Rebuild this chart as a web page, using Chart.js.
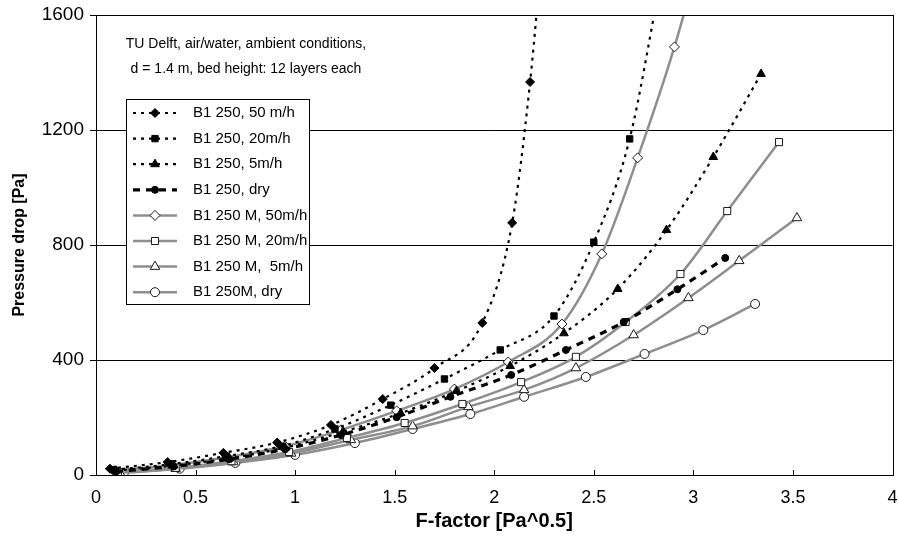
<!DOCTYPE html>
<html lang="en">

<head>
  <meta charset="UTF-8" />
  <title>Pressure drop vs F-factor</title>
  <style>
    html, body { margin: 0; padding: 0; background: #fff; }
    #wrap { width: 899px; height: 547px; }
  </style>
</head>

<body>
  <div id="wrap">
    <canvas id="myChart" width="899" height="547"></canvas>
  </div>

  <script src="https://cdn.jsdelivr.net/npm/chart.js"></script>
  <script>
    // values: F-factor [Pa^0.5] and pressure drop [Pa]
    const b50F = [0.07, 0.36, 0.64, 0.91, 1.18, 1.44, 1.70, 1.94, 2.09, 2.18, 2.25];
    const b50P = [22, 45, 77, 113, 174, 264, 372, 529, 877, 1367, 1900];
    const b20F = [0.09, 0.38, 0.65, 0.93, 1.20, 1.48, 1.75, 2.03, 2.30, 2.50, 2.68, 2.83];
    const b20P = [18, 38, 65, 100, 160, 243, 334, 435, 553, 810, 1169, 1700];
    const b5F = [0.10, 0.39, 0.67, 0.95, 1.24, 1.53, 1.81, 2.08, 2.35, 2.62, 2.865, 3.10, 3.34];
    const b5P = [15, 33, 58, 95, 150, 215, 292, 379, 493, 647, 852, 1106, 1395];
    const bDryF = [0.10, 0.39, 0.67, 0.95, 1.23, 1.51, 1.78, 2.085, 2.36, 2.65, 2.92, 3.16];
    const bDryP = [12, 30, 55, 90, 139, 201, 272, 348, 435, 532, 646, 755];
    const m50F = [0.09, 0.38, 0.66, 0.95, 1.23, 1.51, 1.80, 2.07, 2.34, 2.54, 2.72, 2.905, 3.05];
    const m50P = [15, 35, 62, 100, 157, 223, 299, 393, 525, 769, 1103, 1489, 1850];
    const m20F = [0.11, 0.40, 0.68, 0.97, 1.26, 1.55, 1.84, 2.135, 2.41, 2.66, 2.935, 3.17, 3.43];
    const m20P = [10, 25, 48, 80, 129, 181, 247, 323, 411, 532, 699, 918, 1158];
    const m5F = [0.12, 0.40, 0.69, 0.98, 1.28, 1.59, 1.87, 2.15, 2.41, 2.70, 2.975, 3.23, 3.52];
    const m5P = [8, 22, 45, 75, 122, 170, 237, 296, 372, 487, 616, 745, 894];
    const mDryF = [0.14, 0.42, 0.70, 1.00, 1.30, 1.59, 1.88, 2.15, 2.46, 2.755, 3.05, 3.31];
    const mDryP = [8, 22, 42, 70, 111, 160, 212, 272, 341, 421, 504, 595];

    const seriesNames = [
      "B1 250, 50 m/h", "B1 250, 20m/h", "B1 250, 5m/h", "B1 250, dry",
      "B1 250 M, 50m/h", "B1 250 M, 20m/h", "B1 250 M,  5m/h", "B1 250M, dry"
    ];
    const yTicks = [0, 400, 800, 1200, 1600];
    const noteLines = ["TU Delft, air/water, ambient conditions,", "d = 1.4 m, bed height: 12 layers each"];

    const pts = (xs, ys) => xs.map((x, i) => ({ x: x, y: ys[i] }));
    const GREY = "#8e8e8e";

    function blackSeries(label, xs, ys, style, radius, dash, width) {
      return {
        label: label, data: pts(xs, ys),
        borderColor: "#000", borderWidth: width, borderDash: dash,
        pointStyle: style, pointRadius: radius,
        pointBackgroundColor: "#000", pointBorderColor: "#000", pointBorderWidth: 1,
        cubicInterpolationMode: "monotone", fill: false
      };
    }
    function greySeries(label, xs, ys, style, radius) {
      return {
        label: label, data: pts(xs, ys),
        borderColor: GREY, borderWidth: 2.5,
        pointStyle: style, pointRadius: radius,
        pointBackgroundColor: "#fff", pointBorderColor: "#1a1a1a", pointBorderWidth: 1,
        cubicInterpolationMode: "monotone", fill: false
      };
    }

    const datasets = [
      blackSeries(seriesNames[0], b50F, b50P, "rectRot", 4.5, [3, 5], 2.2),
      blackSeries(seriesNames[1], b20F, b20P, "rect", 4.5, [3, 5], 2.2),
      blackSeries(seriesNames[2], b5F, b5P, "triangle", 5, [3, 5], 2.2),
      blackSeries(seriesNames[3], bDryF, bDryP, "circle", 3.5, [7, 6], 3.2),
      greySeries(seriesNames[4], m50F, m50P, "rectRot", 5),
      greySeries(seriesNames[5], m20F, m20P, "rect", 5),
      greySeries(seriesNames[6], m5F, m5P, "triangle", 5.5),
      greySeries(seriesNames[7], mDryF, mDryP, "circle", 4.5)
    ];

    // box round the plot, inward x ticks, note text and the boxed legend
    const extras = {
      id: "extras",
      afterDatasetsDraw(chart) {
        const ctx = chart.ctx;
        const a = chart.chartArea;
        const xs = chart.scales.x;
        ctx.save();
        ctx.strokeStyle = "#000";
        ctx.lineWidth = 1;
        ctx.setLineDash([]);
        ctx.strokeRect(Math.round(a.left) + 0.5, Math.round(a.top) + 0.5,
          Math.round(a.right - a.left), Math.round(a.bottom - a.top));
        for (let v = 0.5; v < 4; v += 0.5) {
          const px = Math.round(xs.getPixelForValue(v)) + 0.5;
          ctx.beginPath();
          ctx.moveTo(px, a.bottom);
          ctx.lineTo(px, a.bottom - 5);
          ctx.stroke();
        }

        ctx.fillStyle = "#000";
        ctx.font = "14px 'Liberation Sans', Arial, sans-serif";
        ctx.textAlign = "center";
        ctx.textBaseline = "middle";
        ctx.fillText(noteLines[0], 246, 44);
        ctx.fillText(noteLines[1], 246, 69);

        const lx = 126, ly = 99, lw = 183, lh = 205;
        ctx.fillStyle = "#fff";
        ctx.fillRect(lx, ly, lw, lh);
        ctx.strokeRect(lx + 0.5, ly + 0.5, lw, lh);
        ctx.font = "15px 'Liberation Sans', Arial, sans-serif";
        ctx.textAlign = "left";
        chart.data.datasets.forEach((ds, i) => {
          const y = 113 + i * 25.6;
          ctx.strokeStyle = ds.borderColor;
          ctx.lineWidth = ds.borderWidth;
          ctx.setLineDash(ds.borderDash || []);
          ctx.beginPath();
          ctx.moveTo(133, y);
          ctx.lineTo(177, y);
          ctx.stroke();
          ctx.setLineDash([]);
          ctx.fillStyle = ds.pointBackgroundColor;
          ctx.strokeStyle = ds.pointBorderColor;
          ctx.lineWidth = 1;
          Chart.helpers.drawPoint(ctx, {
            pointStyle: ds.pointStyle, radius: ds.pointRadius, rotation: 0, borderWidth: 1
          }, 155, y);
          ctx.fillStyle = "#000";
          ctx.fillText(ds.label, 193, y);
        });
        ctx.restore();
      }
    };

    const ctx = document.getElementById("myChart");
    new Chart(ctx, {
      type: "line",
      data: { datasets: datasets },
      options: {
        responsive: false,
        animation: false,
        layout: { padding: { top: 15, right: 4, left: 0, bottom: 0 } },
        plugins: { legend: { display: false }, tooltip: { enabled: false } },
        scales: {
          x: {
            type: "linear", min: 0, max: 4,
            afterFit(s) { s.height = 72; s.paddingRight = 0; s.paddingLeft = 0; },
            ticks: {
              stepSize: 0.5, color: "#000", padding: 12,
              callback: v => String(v),
              font: { family: "'Liberation Sans Narrow', 'Liberation Sans', Arial", size: 18 }
            },
            grid: { drawOnChartArea: false, drawTicks: false },
            border: { display: true, color: "#000", width: 1 },
            title: {
              display: true, text: "F-factor [Pa^0.5]", color: "#000",
              padding: { top: 0, bottom: 14 },
              font: { family: "'Liberation Sans Narrow', 'Liberation Sans', Arial", size: 20, weight: "bold" }
            }
          },
          y: {
            min: 0, max: 1600,
            afterFit(s) { s.width = 96; s.paddingTop = 0; s.paddingBottom = 0; },
            afterBuildTicks(s) { s.ticks = yTicks.map(v => ({ value: v })); },
            ticks: {
              color: "#000", padding: 6,
              callback: v => String(v),
              font: { family: "'Liberation Sans', Arial", size: 19 }
            },
            grid: { color: "#000", lineWidth: 1, tickLength: 6 },
            border: { display: true, color: "#000", width: 1 },
            title: {
              display: true, text: "Pressure drop [Pa]", color: "#000",
              padding: { top: 10, bottom: 0 },
              font: { family: "'Liberation Sans', Arial", size: 16, weight: "bold" }
            }
          }
        }
      },
      plugins: [extras]
    });
  </script>
</body>

</html>
